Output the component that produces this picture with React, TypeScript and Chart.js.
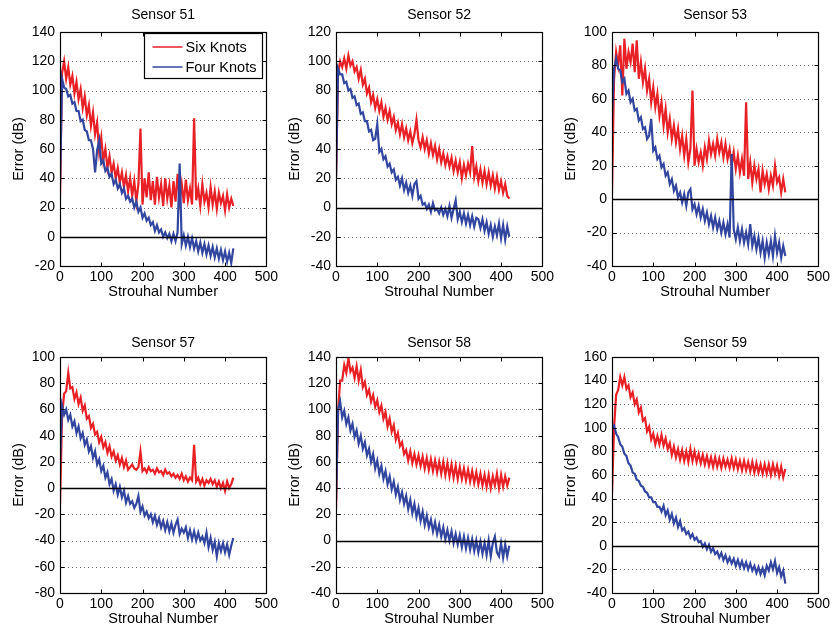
import React, { useEffect, useRef } from 'react';
import { Chart, registerables } from 'chart.js';

Chart.register(...registerables);

const FONT = '"Liberation Sans", Arial, Helvetica, sans-serif';
const RED = 'rgb(232, 33, 39)';
const BLUE = 'rgb(50, 70, 160)';

// Strouhal number axis (shared by every series)
const strouhal = [
  0, 5, 10, 15, 20, 25, 30, 35, 40, 45, 50, 55, 60, 65, 70, 75, 80,
  85, 90, 95, 100, 105, 110, 115, 120, 125, 130, 135, 140, 145, 150, 155, 160, 165,
  170, 175, 180, 185, 190, 195, 200, 205, 210, 215, 220, 225, 230, 235, 240, 245, 250,
  255, 260, 265, 270, 275, 280, 285, 290, 295, 300, 305, 310, 315, 320, 325, 330, 335,
  340, 345, 350, 355, 360, 365, 370, 375, 380, 385, 390, 395, 400, 405, 410, 415, 420,
];

const seriesNames = ['Six Knots', 'Four Knots'];
const sensorTitles = ['Sensor 51', 'Sensor 52', 'Sensor 53', 'Sensor 57', 'Sensor 58', 'Sensor 59'];
const yMins = [-20, -40, -40, -80, -40, -40];
const yMaxs = [140, 120, 100, 100, 140, 160];
const xTickStep = 100;
const yTickStep = 20;
const xTitle = 'Strouhal Number';
const yTitle = 'Error (dB)';

const s51Six = [
  28, 112, 120, 108, 116, 104, 110, 98, 106, 94, 101, 88, 96, 83, 90, 76, 85,
  70, 78, 58, 68, 52, 60, 47, 55, 44, 50, 40, 47, 37, 44, 34, 42, 31,
  40, 28, 38, 24, 36, 74, 22, 40, 27, 44, 25, 38, 22, 41, 27, 36, 21,
  40, 26, 35, 20, 38, 24, 43, 25, 36, 23, 39, 25, 33, 22, 81, 25, 33,
  21, 36, 24, 30, 20, 34, 22, 31, 19, 30, 23, 28, 18, 29, 20, 26, 21,
];
const s51Four = [
  35, 108, 102, 101, 96, 97, 91, 92, 86, 86, 79, 80, 73, 72, 66, 66, 60,
  44, 59, 66, 50, 52, 45, 47, 41, 43, 36, 39, 33, 36, 30, 33, 26, 28,
  24, 26, 20, 24, 17, 20, 13, 16, 11, 13, 8, 10, 4, 8, 3, 5, 0,
  3, -1, 2, -3, 2, -3, 3, 50, -5, 1, -6, 0, -7, -1, -8, -3, -10,
  -4, -11, -5, -12, -6, -13, -7, -14, -8, -15, -9, -16, -10, -17, -11, -18, -8,
];
const s52Six = [
  20, 92, 100, 96, 102, 95, 104, 97, 100, 93, 96, 88, 94, 84, 88, 78, 82,
  72, 77, 68, 74, 66, 72, 62, 68, 60, 66, 57, 62, 53, 58, 50, 57, 48,
  54, 46, 52, 44, 50, 60, 46, 41, 48, 40, 46, 37, 44, 36, 42, 33, 40,
  31, 37, 29, 35, 28, 34, 25, 32, 24, 31, 20, 29, 22, 30, 24, 42, 21,
  28, 18, 26, 17, 25, 16, 24, 15, 22, 13, 21, 12, 18, 10, 16, 8, 6,
];
const s52Four = [
  20, 95, 91, 91, 85, 86, 80, 81, 75, 76, 70, 71, 64, 65, 59, 59, 52,
  53, 46, 47, 57, 38, 40, 33, 35, 28, 30, 24, 26, 19, 21, 15, 20, 12,
  17, 10, 15, 8, 16, 18, 6, 8, 2, 3, -1, 2, -3, 3, -2, -1, -4,
  0, -5, -1, -6, 1, -7, -1, 5, -8, -3, -10, -4, -11, -5, -12, -6, -13,
  -7, -8, -14, -8, -16, -10, -18, -12, -20, -13, -19, -11, -21, -12, -22, -13, -20,
];
const s53Six = [
  5, 72, 88, 80, 92, 62, 96, 78, 88, 82, 93, 76, 95, 72, 82, 70, 78,
  65, 72, 58, 67, 55, 63, 50, 58, 44, 54, 40, 48, 36, 44, 34, 42, 30,
  38, 26, 36, 22, 30, 65, 20, 30, 22, 28, 20, 31, 24, 35, 27, 33, 26,
  36, 28, 34, 25, 33, 24, 30, 20, 28, 18, 26, 16, 24, 14, 58, 12, 22,
  10, 20, 12, 18, 4, 17, 9, 15, 6, 14, 8, 20, 10, 13, 4, 12, 4,
];
const s53Four = [
  50, 78, 84, 78, 77, 70, 72, 63, 65, 58, 60, 53, 54, 47, 49, 42, 43,
  36, 38, 48, 29, 31, 24, 26, 19, 21, 14, 16, 9, 12, 5, 8, 1, 4,
  -2, 3, -4, 4, 6, -6, -3, -9, -4, -11, -6, -13, -8, -15, -10, -17, -11,
  -18, -13, -20, -14, -21, -15, -23, 27, -18, -24, -17, -25, -18, -26, -20, -27, -15,
  -28, -22, -30, -23, -32, -25, -35, -26, -33, -25, -34, -22, -32, -26, -35, -28, -34,
];
const s57Six = [
  -12, 55, 72, 74, 88, 76, 77, 68, 73, 64, 69, 59, 63, 53, 55, 46, 49,
  41, 43, 35, 39, 31, 35, 27, 32, 24, 28, 21, 25, 18, 23, 16, 21, 14,
  16, 18, 15, 14, 16, 28, 13, 15, 12, 16, 13, 14, 11, 15, 12, 13, 10,
  14, 11, 12, 9, 11, 8, 10, 7, 11, 6, 9, 5, 8, 6, 33, 5, 8,
  3, 7, 2, 6, 4, 7, 3, 6, 1, 5, 0, 4, -2, 5, 0, 3, 8,
];
const s57Four = [
  20, 63, 56, 60, 52, 56, 47, 51, 42, 47, 38, 42, 33, 37, 28, 32, 23,
  28, 18, 22, 13, 17, 8, 12, 3, 7, -2, 3, -5, 1, -7, -2, -11, -6,
  -12, -10, -15, -12, -6, -18, -14, -21, -18, -23, -20, -26, -21, -28, -23, -30, -25,
  -32, -26, -33, -27, -34, -28, -24, -35, -31, -34, -30, -38, -32, -39, -33, -40, -34,
  -40, -37, -42, -34, -45, -38, -47, -41, -52, -42, -48, -42, -49, -43, -51, -44, -38,
];
const s58Six = [
  25, 98, 122, 122, 134, 128, 139, 129, 132, 124, 133, 122, 130, 117, 121, 111, 115,
  106, 111, 102, 107, 98, 103, 93, 98, 87, 93, 83, 88, 77, 82, 72, 75, 66,
  69, 61, 68, 59, 66, 58, 65, 57, 64, 55, 63, 54, 62, 53, 61, 52, 60,
  51, 60, 50, 59, 49, 58, 48, 57, 47, 56, 47, 55, 46, 54, 45, 53, 44,
  52, 43, 51, 42, 50, 41, 50, 40, 49, 42, 51, 40, 50, 41, 49, 42, 48,
];
const s58Four = [
  30, 100, 106, 94, 99, 89, 94, 84, 89, 79, 84, 74, 80, 70, 75, 65, 70,
  60, 66, 55, 61, 51, 57, 47, 53, 43, 49, 39, 45, 35, 41, 31, 37, 28,
  34, 24, 31, 21, 28, 18, 25, 15, 22, 12, 19, 10, 16, 7, 14, 5, 12,
  3, 10, 1, 8, 0, 7, -2, 5, -3, 4, -5, 3, -6, 2, -7, 1, -8,
  0, -9, -1, -10, -2, -11, 0, -12, -2, 3, -9, -12, -2, -13, -3, -12, -4,
];
const s59Six = [
  45, 100, 128, 132, 143, 136, 143, 133, 136, 126, 130, 120, 124, 113, 117, 106, 108,
  97, 101, 90, 95, 86, 93, 86, 94, 85, 91, 82, 87, 77, 84, 75, 82, 73,
  81, 72, 80, 71, 82, 72, 80, 71, 78, 70, 77, 69, 76, 68, 75, 67, 75,
  67, 74, 66, 74, 67, 73, 66, 74, 66, 73, 65, 72, 64, 72, 64, 71, 63,
  71, 62, 70, 62, 69, 61, 69, 61, 69, 60, 69, 61, 68, 59, 67, 58, 65,
];
const s59Four = [
  100, 102, 95, 92, 86, 84, 78, 76, 70, 68, 62, 61, 56, 55, 51, 50, 46,
  45, 41, 41, 37, 37, 33, 33, 29, 34, 26, 30, 22, 27, 19, 24, 16, 21,
  13, 15, 10, 12, 7, 10, 5, 7, 3, 4, -1, 2, -3, 1, -5, -2, -7,
  -5, -10, -6, -12, -8, -14, -10, -15, -11, -17, -12, -18, -13, -19, -14, -20, -15,
  -21, -17, -23, -18, -24, -19, -25, -17, -21, -14, -20, -13, -23, -18, -26, -21, -32,
];

const sixSeries = [s51Six, s52Six, s53Six, s57Six, s58Six, s59Six];
const fourSeries = [s51Four, s52Four, s53Four, s57Four, s58Four, s59Four];

// layout (pixels)
const PLOT_W = 207;
const Y_AXIS_W = 60;
const RIGHT_PAD = 14;
const TITLE_H = 32;
const X_AXIS_H = 44;
const colLefts = [60, 336, 612];
const rowTops = [32, 357];
const rowHeights = [234, 236];
const rowTitleTops = [7, 10];

function makeMatlabPlugin(showLegend: boolean) {
  return {
    id: 'matlabAxes',
    beforeDatasetsDraw(chart: any) {
      const { ctx, chartArea: a, scales } = chart;
      const y = scales.y;
      ctx.save();
      ctx.strokeStyle = '#6a6a6a';
      ctx.lineWidth = 1;
      ctx.setLineDash([1, 3]);
      y.ticks.forEach((t: any) => {
        if (t.value === y.min || t.value === y.max || t.value === 0) return;
        const py = Math.round(y.getPixelForValue(t.value)) + 0.5;
        ctx.beginPath();
        ctx.moveTo(a.left, py);
        ctx.lineTo(a.right, py);
        ctx.stroke();
      });
      ctx.restore();
    },
    afterDatasetsDraw(chart: any) {
      const { ctx, chartArea: a, scales } = chart;
      const x = scales.x;
      const y = scales.y;
      ctx.save();
      ctx.setLineDash([]);
      // zero line
      if (y.min < 0 && y.max > 0) {
        const pz = Math.round(y.getPixelForValue(0)) + 0.5;
        ctx.strokeStyle = '#000';
        ctx.lineWidth = 1.3;
        ctx.beginPath();
        ctx.moveTo(a.left, pz);
        ctx.lineTo(a.right, pz);
        ctx.stroke();
      }
      // frame
      ctx.strokeStyle = '#000';
      ctx.lineWidth = 1.2;
      const L = Math.round(a.left) + 0.5;
      const R = Math.round(a.right) + 0.5;
      const T = Math.round(a.top) + 0.5;
      const B = Math.round(a.bottom) + 0.5;
      ctx.strokeRect(L, T, R - L, B - T);
      // inside tick marks
      ctx.lineWidth = 1;
      const tl = 4;
      x.ticks.forEach((t: any) => {
        const px = Math.round(x.getPixelForValue(t.value)) + 0.5;
        ctx.beginPath();
        ctx.moveTo(px, B);
        ctx.lineTo(px, B - tl);
        ctx.moveTo(px, T);
        ctx.lineTo(px, T + tl);
        ctx.stroke();
      });
      y.ticks.forEach((t: any) => {
        const py = Math.round(y.getPixelForValue(t.value)) + 0.5;
        ctx.beginPath();
        ctx.moveTo(L, py);
        ctx.lineTo(L + tl, py);
        ctx.moveTo(R, py);
        ctx.lineTo(R - tl, py);
        ctx.stroke();
      });
      // legend
      if (showLegend) {
        const bx = Math.round(a.right - 122) + 0.5;
        const by = Math.round(a.top + 1) + 0.5;
        const bw = 118;
        const bh = 45;
        ctx.fillStyle = '#fff';
        ctx.fillRect(bx, by, bw, bh);
        ctx.strokeStyle = '#000';
        ctx.lineWidth = 1.2;
        ctx.strokeRect(bx, by, bw, bh);
        const rows = [
          { name: seriesNames[0], color: RED, dy: 13.5 },
          { name: seriesNames[1], color: BLUE, dy: 33.5 },
        ];
        ctx.font = `14.5px ${FONT}`;
        ctx.textBaseline = 'middle';
        ctx.textAlign = 'left';
        rows.forEach((r) => {
          ctx.strokeStyle = r.color;
          ctx.lineWidth = 1.5;
          ctx.beginPath();
          ctx.moveTo(bx + 8, by + r.dy);
          ctx.lineTo(bx + 38, by + r.dy);
          ctx.stroke();
          ctx.fillStyle = '#000';
          ctx.fillText(r.name, bx + 41, by + r.dy + 0.5);
        });
      }
      ctx.restore();
    },
  };
}

type PanelProps = { index: number; left: number; top: number; plotH: number; titleTop: number };

function Panel({ index, left, top, plotH, titleTop }: PanelProps) {
  const ref = useRef<HTMLCanvasElement | null>(null);
  const W = Y_AXIS_W + PLOT_W + RIGHT_PAD;
  const H = TITLE_H + plotH + X_AXIS_H;

  useEffect(() => {
    if (!ref.current) return;
    const toXY = (vals: number[]) => vals.map((v, i) => ({ x: strouhal[i], y: v }));
    const tickFont = { family: FONT, size: 14 };
    const chart = new Chart(ref.current, {
      type: 'line',
      data: {
        datasets: [
          {
            label: seriesNames[1],
            data: toXY(fourSeries[index]),
            borderColor: BLUE,
            backgroundColor: BLUE,
            borderWidth: 2.2,
            pointRadius: 0,
            tension: 0,
            order: 0,
          },
          {
            label: seriesNames[0],
            data: toXY(sixSeries[index]),
            borderColor: RED,
            backgroundColor: RED,
            borderWidth: 2.2,
            pointRadius: 0,
            tension: 0,
            order: 1,
          },
        ],
      },
      options: {
        responsive: false,
        animation: false,
        devicePixelRatio: 1,
        events: [],
        layout: { padding: { left: 0, right: RIGHT_PAD, top: 0, bottom: 0 } },
        plugins: {
          legend: { display: false },
          tooltip: { enabled: false },
          title: {
            display: true,
            text: sensorTitles[index],
            fullSize: false,
            color: '#000',
            font: { family: FONT, size: 14, weight: 'normal', lineHeight: 1.2 },
            padding: { top: titleTop, bottom: TITLE_H - titleTop - 16.8 },
          },
        },
        scales: {
          x: {
            type: 'linear',
            min: 0,
            max: 500,
            grid: { display: false, drawTicks: false },
            border: { display: false },
            ticks: { stepSize: xTickStep, color: '#000', font: tickFont, padding: 3, maxRotation: 0, autoSkip: false },
            title: {
              display: true,
              text: xTitle,
              color: '#000',
              font: { family: FONT, size: 14.5 },
              padding: { top: 0, bottom: 9 },
            },
            afterFit: (s: any) => {
              s.height = X_AXIS_H;
            },
          },
          y: {
            type: 'linear',
            min: yMins[index],
            max: yMaxs[index],
            grid: { display: false, drawTicks: false },
            border: { display: false },
            ticks: { stepSize: yTickStep, color: '#000', font: tickFont, padding: 5, autoSkip: false },
            title: {
              display: true,
              text: yTitle,
              color: '#000',
              font: { family: FONT, size: 14.5 },
              padding: { top: 10, bottom: 0 },
            },
            afterFit: (s: any) => {
              s.width = Y_AXIS_W;
            },
          },
        },
      } as any,
      plugins: [makeMatlabPlugin(index === 0)],
    });
    return () => chart.destroy();
  }, [index, plotH, titleTop]);

  return (
    <canvas
      ref={ref}
      width={W}
      height={H}
      style={{ position: 'absolute', left, top, width: W, height: H }}
    />
  );
}

export default function App() {
  const panels = sensorTitles.map((_, i) => {
    const row = Math.floor(i / 3);
    const col = i % 3;
    return {
      index: i,
      left: colLefts[col] - Y_AXIS_W,
      top: rowTops[row] - TITLE_H,
      plotH: rowHeights[row],
      titleTop: rowTitleTops[row],
    };
  });
  return (
    <div
      style={{
        position: 'fixed',
        left: 0,
        top: 0,
        width: 836,
        height: 635,
        background: '#fff',
        overflow: 'hidden',
      }}
    >
      {panels.map((p) => (
        <Panel key={p.index} {...p} />
      ))}
    </div>
  );
}
